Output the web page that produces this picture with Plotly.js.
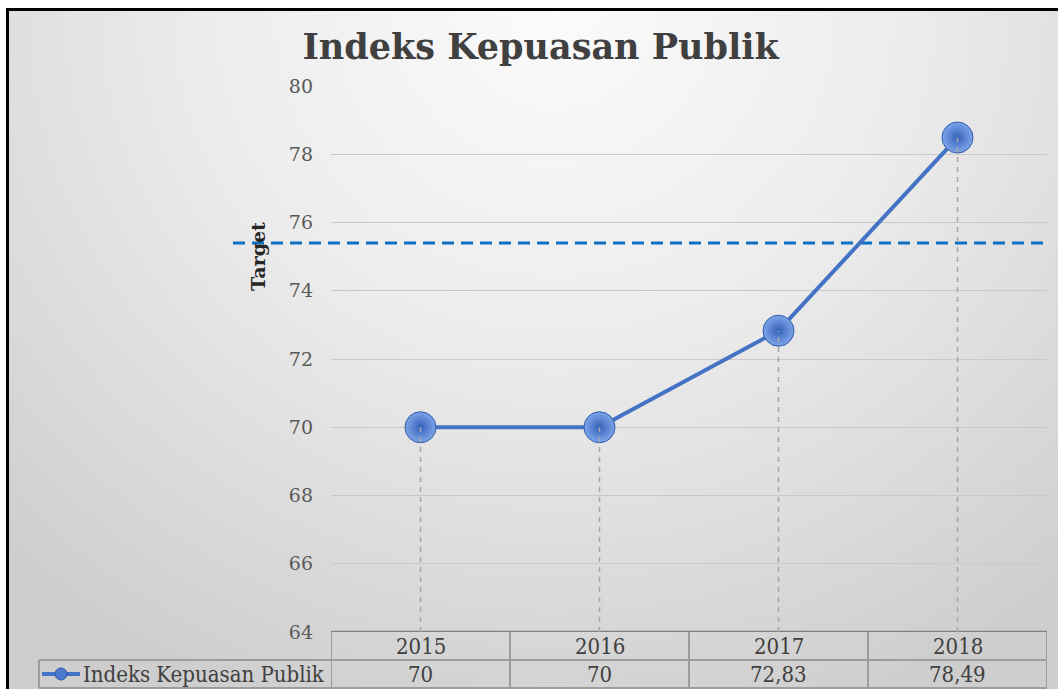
<!DOCTYPE html>
<html>
<head>
<meta charset="utf-8">
<script src="https://cdn.plot.ly/plotly-3.0.1.min.js"></script>
<style>
  html, body { margin: 0; padding: 0; background: #ffffff; }
  #frame {
    position: absolute; left: 6px; top: 8px; width: 1052px; height: 681px;
    border-left: 3px solid #000; border-top: 3px solid #000; box-sizing: border-box;
    background: radial-gradient(ellipse 75% 110% at 52% 0%, #fbfbfb 0%, #ececec 45%, #d9d9d9 80%, #cecece 100%);
  }
  #chart { position: absolute; left: 0; top: 0; width: 1058px; height: 689px; }
</style>
</head>
<body>
<div id="frame"></div>
<div id="chart"></div>
<script>
// ---- data ----
const years = ["2015", "2016", "2017", "2018"];
const values = [70, 70, 72.83, 78.49];
const valueLabels = ["70", "70", "72,83", "78,49"];
const seriesName = "Indeks Kepuasan Publik";
const targetValue = 75.4;
const yTicks = [64, 66, 68, 70, 72, 74, 76, 78, 80];

const serif = "DejaVu Serif, Liberation Serif, serif";
const condSerif = "DejaVu Serif Condensed, Liberation Serif, serif";

const plotTopPx = 86, plotBottomPx = 632;
const plotH = plotBottomPx - plotTopPx;
const plotLeftPx = 331, plotW = 716;
const py = px => (plotBottomPx - px) / plotH;     // pixel y -> paper y
const pxX = px => (px - plotLeftPx) / plotW;       // pixel x -> paper x

const xIdx = years.map((_, i) => i);

const trace = {
  x: xIdx, y: values, type: "scatter", mode: "lines+markers", name: seriesName,
  line: { color: "#4472c4", width: 4 },
  marker: {
    size: 31, color: "#7ea5ea",
    gradient: { type: "radial", color: "#3461b8" },
    line: { color: "#2f5aa8", width: 1 }
  },
  hoverinfo: "skip", showlegend: false
};

const shapes = [];
// drop lines
xIdx.forEach((xi, i) => {
  shapes.push({ type: "line", xref: "x", yref: "y", x0: xi, x1: xi, y0: 64, y1: values[i],
    line: { color: "#a6a6a6", width: 1.5, dash: "5px,5px" }, layer: "above" });
});
// target line
shapes.push({ type: "line", xref: "paper", yref: "y", x0: pxX(233), x1: pxX(1044), y0: targetValue, y1: targetValue,
  line: { color: "#0a72c6", width: 3, dash: "12px,7px" }, layer: "below" });

// data table lines
const rowSep = py(660), rowBot = py(688);
const tableColor = "#9c9c9c";
shapes.push({ type: "line", xref: "paper", yref: "paper", x0: pxX(39), x1: 1, y0: rowSep, y1: rowSep, line: { color: tableColor, width: 2 } });
shapes.push({ type: "line", xref: "paper", yref: "paper", x0: pxX(39), x1: 1, y0: rowBot, y1: rowBot, line: { color: tableColor, width: 2 } });
shapes.push({ type: "line", xref: "paper", yref: "paper", x0: pxX(39), x1: pxX(39), y0: rowSep, y1: rowBot, line: { color: tableColor, width: 2 } });
for (let k = 0; k <= years.length; k++) {
  shapes.push({ type: "line", xref: "x", yref: "paper", x0: k - 0.5, x1: k - 0.5, y0: 0, y1: rowBot, line: { color: tableColor, width: 2 } });
}
// legend key in table
const keyY = py(674);
shapes.push({ type: "line", xref: "paper", yref: "paper", x0: pxX(42), x1: pxX(80), y0: keyY, y1: keyY, line: { color: "#4472c4", width: 4 } });
shapes.push({ type: "circle", xref: "paper", yref: "paper", x0: pxX(55), x1: pxX(67), y0: py(680), y1: py(668),
  fillcolor: "#4a78cc", line: { color: "#2f5aa8", width: 1 } });

const cellFont = { family: condSerif, size: 22, color: "#404040" };
const annotations = [];
years.forEach((yr, i) => {
  annotations.push({ x: i, xref: "x", y: py(646), yref: "paper", xanchor: "center", yanchor: "middle",
    text: yr, showarrow: false, font: cellFont });
  annotations.push({ x: i, xref: "x", y: py(674), yref: "paper", xanchor: "center", yanchor: "middle",
    text: valueLabels[i], showarrow: false, font: cellFont });
});
annotations.push({ x: pxX(81), xref: "paper", xanchor: "left", y: py(674), yref: "paper", yanchor: "middle",
  text: seriesName, showarrow: false, font: cellFont });
annotations.push({ x: pxX(258), xref: "paper", xanchor: "center", y: py(257), yref: "paper", yanchor: "middle",
  text: "<b>Target</b>", textangle: -90, showarrow: false, font: { family: serif, size: 19, color: "#262626" } });

const layout = {
  width: 1058, height: 689,
  margin: { l: 331, r: 11, t: 86, b: 57 },
  paper_bgcolor: "rgba(0,0,0,0)", plot_bgcolor: "rgba(0,0,0,0)",
  title: { text: "<b>Indeks Kepuasan Publik</b>", x: 0.511, xanchor: "center", y: 0.932, yanchor: "middle",
    font: { family: serif, size: 35, color: "#404040" } },
  xaxis: { range: [-0.5, 3.5], showticklabels: false, showgrid: false, zeroline: false, ticks: "",
    showline: false, fixedrange: true },
  yaxis: { range: [64, 80], tickvals: yTicks, ticktext: yTicks.map(String), showgrid: true,
    gridcolor: "#c9c9c9", gridwidth: 1, zeroline: false, showline: false, ticks: "", ticklabelstandoff: 17,
    tickfont: { family: serif, size: 19, color: "#595959" }, fixedrange: true },
  shapes: [
    { type: "line", xref: "paper", yref: "y", x0: 0, x1: 1, y0: 64, y1: 64, line: { color: "#808080", width: 2.5 }, layer: "below" },
    ...shapes
  ],
  annotations: annotations,
  showlegend: false
};

Plotly.newPlot("chart", [trace], layout, { displayModeBar: false, staticPlot: true });
</script>
</body>
</html>
